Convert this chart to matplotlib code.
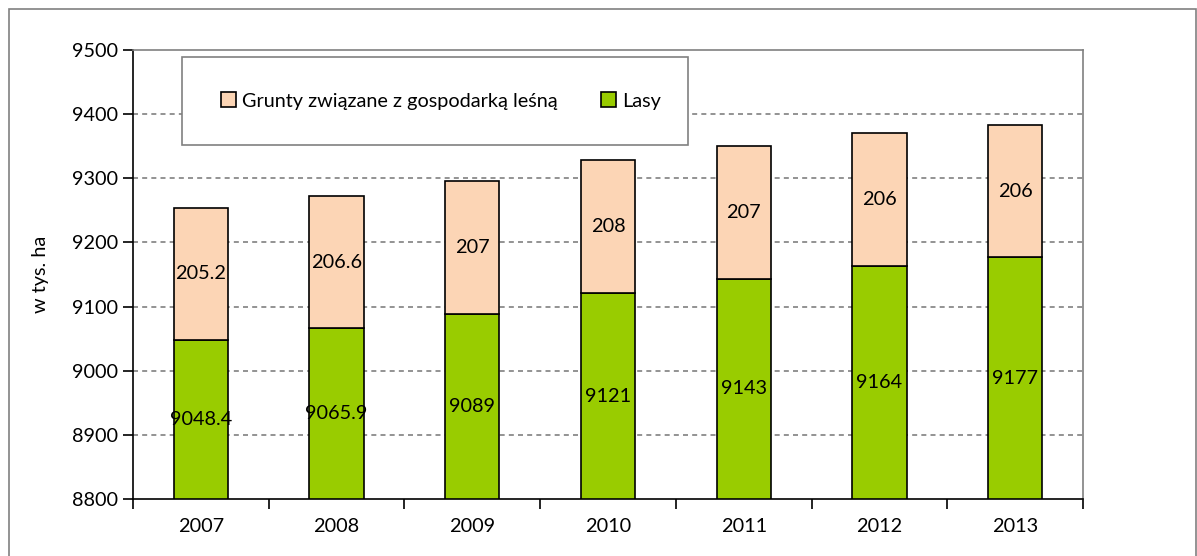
import matplotlib.pyplot as plt
from matplotlib.patches import Rectangle
import numpy as np

years = ['2007', '2008', '2009', '2010', '2011', '2012', '2013']
lasy = [9048.4, 9065.9, 9089, 9121, 9143, 9164, 9177]
grunty = [205.2, 206.6, 207, 208, 207, 206, 206]
lasy_labels = ['9048.4', '9065.9', '9089', '9121', '9143', '9164', '9177']
grunty_labels = ['205.2', '206.6', '207', '208', '207', '206', '206']

plt.rcParams['font.family'] = ['Lato', 'DejaVu Sans']
fs = 14.3

W, H = 1197, 556
fig = plt.figure(figsize=(W / 100, H / 100), dpi=100)
ax = fig.add_axes([133 / W, 1 - 499 / H, (1083 - 133) / W, (499 - 50) / H])

# outer frame of the chart area
fig.patches.append(Rectangle((9 / W, -0.1), (1196 - 9) / W, 1.1 - 9 / H,
                             transform=fig.transFigure, fill=False,
                             edgecolor='#808080', linewidth=1.2))

base = 8800
x = np.arange(len(years))
green = '#99CC00'
peach = '#FCD5B5'
bw = 0.4

b1 = ax.bar(x, np.array(lasy) - base, bw, bottom=base, color=green,
            edgecolor='black', linewidth=1.2, label='Lasy', zorder=3)
b2 = ax.bar(x, grunty, bw, bottom=lasy, color=peach,
            edgecolor='black', linewidth=1.2,
            label='Grunty związane z gospodarką leśną', zorder=3)

for i in range(len(years)):
    ax.text(x[i], (base + lasy[i]) / 2, lasy_labels[i], ha='center',
            va='center', fontsize=fs, zorder=4)
    ax.text(x[i], lasy[i] + grunty[i] / 2, grunty_labels[i], ha='center',
            va='center', fontsize=fs, zorder=4)

ax.set_xlim(-0.5, len(years) - 0.5)
ax.set_ylim(8800, 9500)
ax.set_yticks(np.arange(8800, 9501, 100))
ax.set_xticks(x)
ax.set_xticklabels(years)
ax.set_xticks(np.arange(-0.5, len(years), 1), minor=True)
ax.tick_params(axis='x', which='major', length=0, labelsize=fs, pad=14)
ax.tick_params(axis='x', which='minor', length=7, width=1.2, color='black')
ax.tick_params(axis='y', length=7, width=1.2, labelsize=fs, pad=4)

for yv in range(8900, 9500, 100):
    ax.axhline(yv, color='#808080', linestyle=(0, (3, 2.5)), linewidth=1.2,
               zorder=1)

ax.spines['left'].set_linewidth(1.2)
ax.spines['bottom'].set_linewidth(1.2)
ax.spines['top'].set_color('#808080')
ax.spines['right'].set_color('#808080')
ax.spines['top'].set_linewidth(1.2)
ax.spines['right'].set_linewidth(1.2)

ax.set_ylabel('w tys. ha', fontsize=fs, labelpad=16)

# legend box
ax.add_patch(Rectangle((182 / W, 1 - 145 / H), (688 - 182) / W, (145 - 57) / H,
                       transform=fig.transFigure, facecolor='white',
                       edgecolor='#808080', linewidth=1.2, zorder=5))
leg = fig.legend(handles=[b2, b1], loc='center', ncol=2, frameon=False,
                 bbox_to_anchor=((182 + 688) / 2 / W + 6 / W, 1 - 101 / H),
                 fontsize=fs, handlelength=0.75, handleheight=0.75,
                 handletextpad=0.3, columnspacing=2.2)

fig.savefig('out.png', dpi=100)
